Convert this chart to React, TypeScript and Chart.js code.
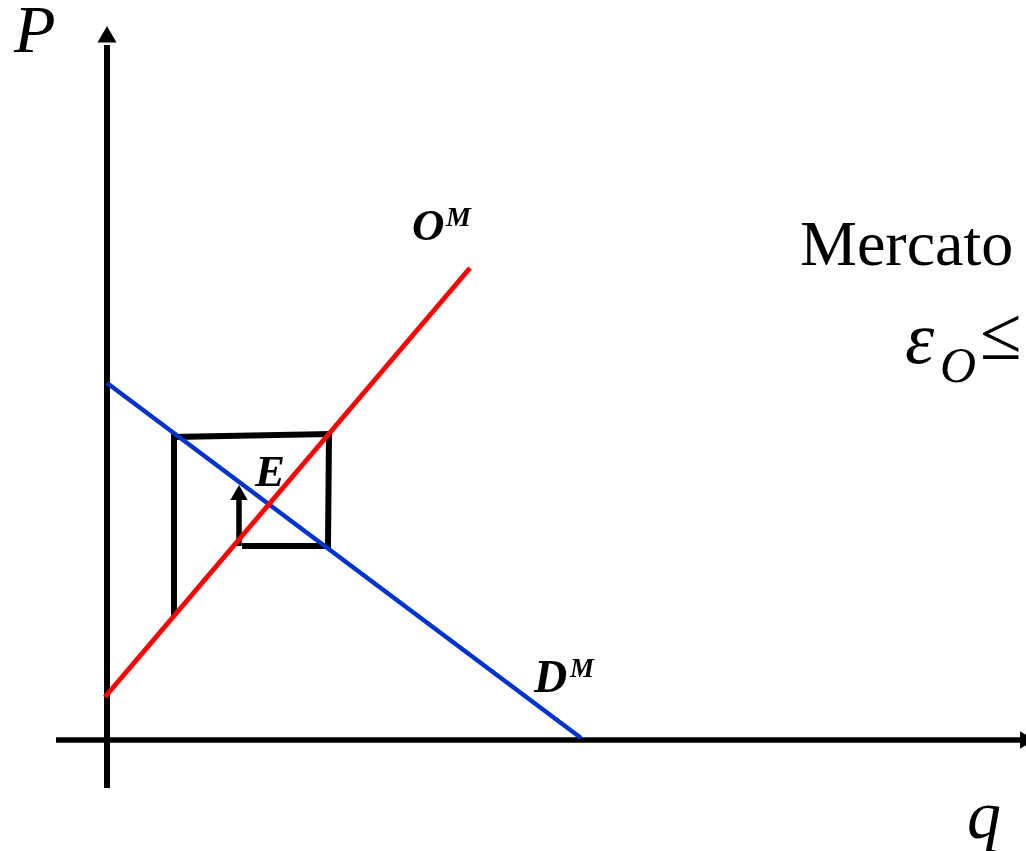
import React, { useEffect, useRef } from "react";
import { Chart, registerables } from "chart.js";

Chart.register(...registerables);

// Abstract units: q = quantity, P = price (origin at the axes crossing)
const qRange = [-1.07, 9.19];
const pRange = [-1.11, 7.4];

const yAxisLine = [{ x: 0, y: -0.48 }, { x: 0, y: 6.95 }];
const xAxisLine = [{ x: -0.51, y: 0 }, { x: 9.15, y: 0 }];
const supplyOM = [{ x: -0.02, y: 0.43 }, { x: 3.63, y: 4.72 }];
const demandDM = [{ x: 0.0, y: 3.57 }, { x: 4.74, y: 0.02 }];
const cobweb = [
  { x: 0.67, y: 1.25 },
  { x: 0.67, y: 3.03 },
  { x: 2.22, y: 3.06 },
  { x: 2.21, y: 1.94 },
  { x: 1.35, y: 1.94 },
];
const cobwebArrow = [{ x: 1.32, y: 1.94 }, { x: 1.32, y: 2.4 }];
const arrowHeads = [
  { x: 0, y: 7.03 },
  { x: 9.18, y: 0 },
  { x: 1.32, y: 2.45 },
];
const arrowRotations = [0, 90, 0];
const arrowSizes = [11, 10, 10];

type Label = { text: string; x: number; y: number; font: string };
const labels: Label[] = [
  { text: "P", x: -0.93, y: 6.88, font: "italic 68px 'Liberation Serif'" },
  { text: "O", x: 3.05, y: 5.0, font: "italic bold 45px 'Liberation Serif'" },
  { text: "M", x: 3.39, y: 5.14, font: "italic bold 28px 'Liberation Serif'" },
  { text: "Mercato", x: 6.93, y: 4.75, font: "64px 'Liberation Serif'" },
  { text: "ε", x: 7.98, y: 3.77, font: "italic 74px 'Liberation Serif'" },
  { text: "O", x: 8.33, y: 3.58, font: "italic 50px 'Liberation Serif'" },
  { text: "≤", x: 8.73, y: 3.81, font: "76px 'Liberation Serif'" },
  { text: "E", x: 1.48, y: 2.54, font: "italic bold 45px 'Liberation Serif'" },
  { text: "D", x: 4.27, y: 0.48, font: "italic bold 46px 'Liberation Serif'" },
  { text: "M", x: 4.63, y: 0.63, font: "italic bold 27px 'Liberation Serif'" },
  { text: "q", x: 8.6, y: -0.98, font: "italic 68px 'Liberation Serif'" },
];

const textPlugin = {
  id: "textLabels",
  afterDatasetsDraw(chart: any) {
    const ctx = chart.ctx;
    const xs = chart.scales.x;
    const ys = chart.scales.y;
    ctx.save();
    ctx.fillStyle = "#000";
    ctx.textAlign = "left";
    ctx.textBaseline = "alphabetic";
    for (const l of labels) {
      ctx.font = l.font;
      ctx.fillText(l.text, xs.getPixelForValue(l.x), ys.getPixelForValue(l.y));
    }
    ctx.restore();
  },
};

export default function App() {
  const ref = useRef<HTMLCanvasElement>(null);
  useEffect(() => {
    if (!ref.current) return;
    const line = (data: any[], color: string, width: number, order: number) => ({
      data,
      showLine: true,
      borderColor: color,
      borderWidth: width,
      pointRadius: 0,
      pointHoverRadius: 0,
      fill: false,
      tension: 0,
      clip: false as any,
      order,
      borderCapStyle: "butt" as const,
      borderJoinStyle: "miter" as const,
    });
    const chart = new Chart(ref.current, {
      type: "scatter",
      data: {
        datasets: [
          line(supplyOM, "#ff0000", 5, 1),
          line(demandDM, "#0033cc", 4.5, 1),
          line(cobweb, "#000000", 6, 2),
          line(cobwebArrow, "#000000", 5.5, 2),
          line(yAxisLine, "#000000", 6, 3),
          line(xAxisLine, "#000000", 5.5, 3),
          {
            data: arrowHeads,
            showLine: false,
            pointStyle: "triangle",
            pointRadius: arrowSizes,
            pointRotation: arrowRotations,
            backgroundColor: "#000000",
            borderWidth: 0,
            clip: false as any,
            order: 0,
          } as any,
        ],
      },
      options: {
        animation: false,
        responsive: false,
        devicePixelRatio: 1,
        events: [],
        layout: { padding: 0, autoPadding: false },
        plugins: {
          legend: { display: false },
          tooltip: { enabled: false },
          title: { display: false },
        },
        scales: {
          x: { type: "linear", display: false, min: qRange[0], max: qRange[1] },
          y: { type: "linear", display: false, min: pRange[0], max: pRange[1] },
        },
      },
      plugins: [textPlugin],
    });
    return () => chart.destroy();
  }, []);
  return (
    <div style={{ position: "fixed", left: 0, top: 0, width: 1026, height: 851, background: "#fff" }}>
      <canvas ref={ref} width={1026} height={851} style={{ display: "block" }} />
    </div>
  );
}
